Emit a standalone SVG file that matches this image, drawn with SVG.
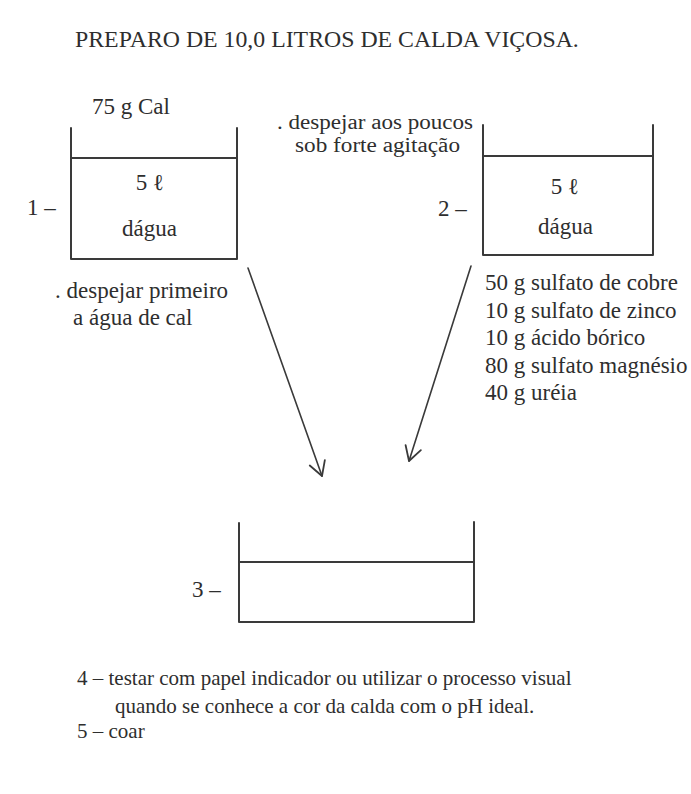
<svg xmlns="http://www.w3.org/2000/svg" width="691" height="794" viewBox="0 0 691 794">
<defs>
<style>
text{font-family:"Liberation Serif","DejaVu Serif",serif;font-size:23px;fill:#2e2e2e}
text.s{font-size:20px}
text.n{font-size:21px}
.ln{fill:none;stroke:#3a3a3a;stroke-width:2;stroke-linecap:round;stroke-linejoin:round}
.ar{fill:none;stroke:#3a3a3a;stroke-width:1.6;stroke-linecap:round}
</style>
<marker id="vhead" markerUnits="userSpaceOnUse" viewBox="-16 -10 18 20" refX="0" refY="0" markerWidth="18" markerHeight="20" orient="auto">
<path d="M-14,-8 L0,0 L-14,8" fill="none" stroke="#3a3a3a" stroke-width="1.8" stroke-linecap="round" stroke-linejoin="round"/>
</marker>
</defs>
<rect width="691" height="794" fill="#fff"/>
<text id="title" x="75" y="47" style="font-size:23.8px">PREPARO DE 10,0 LITROS DE CALDA VIÇOSA.</text>

<g id="node1">
<path class="ln" d="M71,128 V259 H237 V128"/>
<path class="ln" d="M71,158 H237"/>
<text x="92" y="114">75 g Cal</text>
<text x="150" y="190" text-anchor="middle">5 ℓ</text>
<text x="122" y="236">dágua</text>
<text x="27" y="215">1 –</text>
<text x="55" y="298">. despejar primeiro</text>
<text x="73" y="325">a água de cal</text>
</g>

<g id="node2">
<path class="ln" d="M483,125 V255 H653 V125"/>
<path class="ln" d="M483,156 H653"/>
<text class="s" x="277" y="129" textLength="196" lengthAdjust="spacingAndGlyphs">. despejar aos poucos</text>
<text class="s" x="295" y="152" textLength="165" lengthAdjust="spacingAndGlyphs">sob forte agitação</text>
<text x="565" y="194" text-anchor="middle">5 ℓ</text>
<text x="538" y="234">dágua</text>
<text x="438" y="216">2 –</text>
<text x="485" y="290">50 g sulfato de cobre</text>
<text x="485" y="318">10 g sulfato de zinco</text>
<text x="485" y="345">10 g ácido bórico</text>
<text x="485" y="373">80 g sulfato magnésio</text>
<text x="485" y="400">40 g uréia</text>
</g>

<g id="node3">
<path class="ln" d="M239,523 V622 H474 V522"/>
<path class="ln" d="M239,562 H474"/>
<text x="192" y="597">3 –</text>
</g>

<g id="connectors">
<path class="ar" d="M248,268 L322,476" marker-end="url(#vhead)"/>
<path class="ar" d="M471,266 L409,461" marker-end="url(#vhead)"/>
</g>

<g id="notes">
<text class="n" x="77" y="685">4 – testar com papel indicador ou utilizar o processo visual</text>
<text class="n" x="115" y="713">quando se conhece a cor da calda com o pH ideal.</text>
<text class="n" x="77" y="738">5 – coar</text>
</g>
</svg>
